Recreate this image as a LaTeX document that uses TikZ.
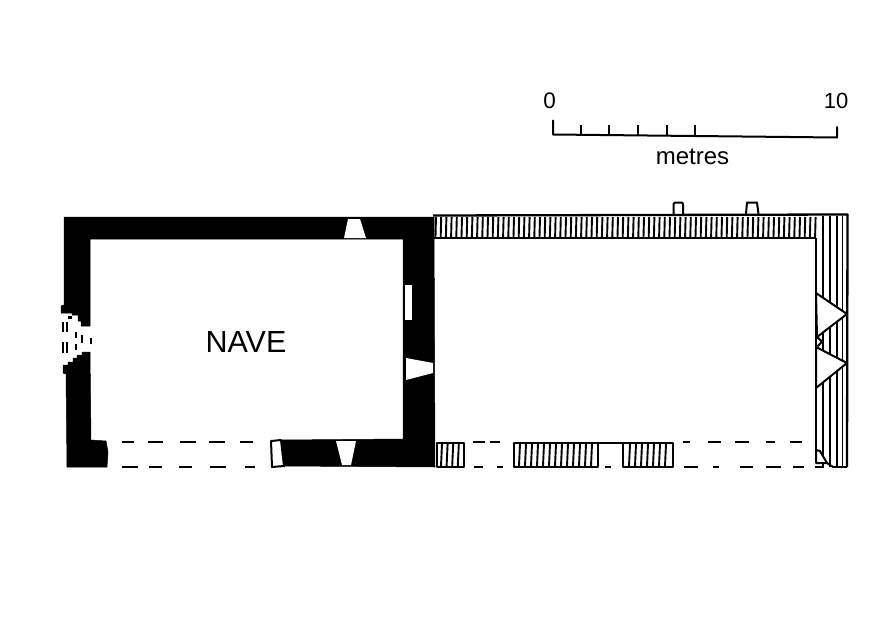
\documentclass[tikz,border=0pt]{standalone}
\usepackage{fontspec}
\setmainfont{Liberation Sans}
\tikzset{
  plan/.style={line width=2pt,black,line join=round},
  hatch/.style={line width=1.9pt,black},
  wallline/.style={line width=2.3pt,black},
  solid wall/.style={fill=black,draw=black,line width=.5pt,line join=round},
  opening/.style={fill=white,draw=none},
  breakdash/.style={line width=2pt,black},
  lab/.style={inner sep=0pt,text=black},
}
\begin{document}
\begin{tikzpicture}[x=1pt,y=-1pt]
\useasboundingbox (0,0) rectangle (894,624);
\fill[white] (0,0) rectangle (894,624);

% solid (nave) walls
\fill[solid wall] (64,217) -- (434,217) -- (435,467) -- (284,466) -- (281,440) -- (403,439)
  -- (403,239) -- (90,239) -- (90,326) -- (81,326) -- (81,321) -- (78,321) -- (78,315)
  -- (72,315) -- (72,313) -- (61,313) -- (61,306) -- (64,305) -- cycle;
\fill[solid wall] (90,352) -- (91,440) -- (106,441) -- (108,452) -- (107,467) -- (67,467) -- (66,374)
  -- (63,373) -- (63,365) -- (68,365) -- (68,362) -- (73,362) -- (73,358) -- (77,358) -- (77,355) -- (82,355) -- (82,352) -- cycle;

% west doorway marks
\foreach \x/\a/\b in {62.7/322/332,66.7/322/332,62.7/342/353,66.7/342/353,76/332/338,76/344/350,81.7/335/343,90.7/338/344}
  \draw[line width=1.6pt] (\x,\a) -- (\x,\b);
\fill (68,316) rectangle (72,318.5);

% openings in the solid walls
\fill[opening] (348,219) -- (360,219) -- (366,238) -- (344,238) -- cycle;
\fill[opening] (405,285) rectangle (412,320);
\fill[opening] (406,358) -- (433,363) -- (433,373) -- (406,380) -- cycle;
\fill[opening] (336,441) -- (356,441) -- (351,465) -- (342,465) -- cycle;
\draw[plan,fill=white] (271,441) -- (281,440) -- (284,466) -- (272,467) -- cycle;

% north wall of the chancel
\foreach \i in {0,...,73}
  \draw[hatch] ({436+5.2*\i},217) -- ({435.5+5.2*\i},237);
\draw[wallline] (433,215.5) -- (848,214.5);
\draw[wallline] (433,238) -- (816,238);

% east wall
\foreach \x in {823,830,837,842.5}
  \draw[hatch] (\x,216) -- (\x,467);
\draw[wallline] (816,238) -- (816,463);
\draw[wallline] (847.5,214) -- (847,467);
\draw[wallline] (833,467) -- (847,467);
\fill[white] (817.5,338) -- (821,341.5) -- (817.5,346) -- cycle;
\draw[plan,fill=white] (816,293) -- (847,314) -- (817,337) -- cycle;
\draw[plan,fill=white] (816,347) -- (847,363) -- (816,388) -- cycle;
\draw[plan] (817.5,337.5) -- (822,341.5) -- (817.5,346.5);
\draw[plan,fill=white] (816,463) -- (816,450) -- (820,451) -- (827,463) -- cycle;
\draw[plan] (827,463) -- (833,467);

% buttresses on the north wall
\draw[plan] (673.5,214) -- (673.5,204) -- (675,202.5) -- (682,202.5) -- (683,204) -- (683,214);
\draw[plan] (746,214) -- (747,202.5) -- (757,202.5) -- (758.5,214);

% south wall fragments
\foreach \l/\r in {437/464,514/598,623/673} {
  \draw[plan] (\l,443) rectangle (\r,466.5);
}
\foreach \i in {0,...,3}
  \draw[hatch] ({442+5.6*\i},444) -- ({441+5.6*\i},466);
\foreach \i in {0,...,12}
  \draw[hatch] ({520+6*\i},444) -- ({519+6*\i},466);
\foreach \i in {0,...,6}
  \draw[hatch] ({630+6*\i},444) -- ({629+6*\i},466);
\draw[plan] (598,443) -- (623,443);

% conjectural south wall (dashes)
\foreach \a/\b in {122/134,148/163,180/196,209/225,240/253,473/485,490/500,683/690,708/721,735/749,766/775,790/802}
  \draw[breakdash] (\a,441.5) -- (\b,441.5);
\foreach \a/\b in {122/138,149/162,179/192,210/226,245/255,474/483,497/503,605/611,684/698,713/719,740/753,766/781,793/804,815/824}
  \draw[breakdash] (\a,467) -- (\b,467);

% scale bar
\draw[plan,line cap=round] (553,120.5) -- (553,134.5) -- (695,136) -- (837,137.5) -- (837,127);
\foreach \x/\y in {581/134.8,609/135,638/135.5,667/135.7,695/136}
  \draw[plan] (\x,125) -- (\x,\y);

\node[lab,font=\fontsize{22.5}{22.5}\selectfont] (zero) at (549.5,100.5) {0};
\node[lab,font=\fontsize{22}{22}\selectfont] (ten) at (836,101) {10};
\node[lab,font=\fontsize{24}{24}\selectfont] (unit) at (692.5,157) {metres};
\node[lab,font=\fontsize{30.5}{30.5}\selectfont] (nave) at (246,342) {NAVE};
\end{tikzpicture}
\end{document}
